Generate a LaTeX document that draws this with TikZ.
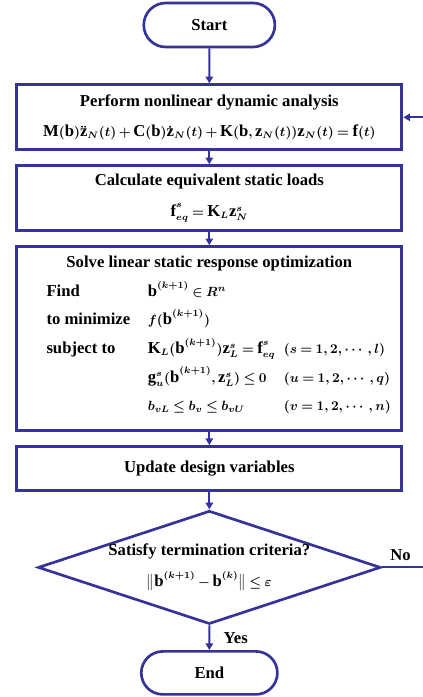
\documentclass[tikz,border=0pt]{standalone}
\usepackage{amsmath}
\usepackage{fontspec}
\setmainfont{Liberation Serif}
\DeclareMathSizes{12.5}{9.8}{7}{5}
\medmuskip=3mu plus 2mu minus 3mu
\thickmuskip=4mu plus 3mu
\newcommand{\vb}[1]{\textbf{#1}}
\usetikzlibrary{arrows.meta,positioning,shapes.geometric,shapes.misc}
\definecolor{navy}{HTML}{333399}

\begin{document}
\begin{tikzpicture}[
  font=\fontsize{12.5}{23}\selectfont\bfseries\boldmath,
  node distance=9.75pt,
  term/.style={rounded rectangle, draw=navy, line width=2pt, minimum width=105pt, minimum height=33pt},
  block/.style={draw=navy, line width=2.2pt, minimum width=288.75pt, align=center, inner sep=0pt},
  decide/.style={diamond, draw=navy, line width=2pt, aspect=3, minimum width=257pt, minimum height=85pt, inner xsep=0pt, inner ysep=-4pt, align=center},
  flow/.style={-{Triangle[length=5pt,width=5.5pt]}, line width=1.6pt, draw=navy},
  tag/.style={inner sep=0pt},
]
\useasboundingbox (0,0) rectangle (316.5pt,-522.75pt);

\node[term] (start) at (157pt,-18.75pt) {Start};
\node[block, minimum height=48.75pt, below=26.25pt of start] (nonlin) {Perform nonlinear dynamic analysis\\
  $\vb{M}(\vb{b})\ddot{\vb{z}}_N(t)+\vb{C}(\vb{b})\dot{\vb{z}}_N(t)+\vb{K}(\vb{b},\vb{z}_N(t))\vb{z}_N(t)=\vb{f}(t)$};
\node[block, minimum height=48.75pt, below=of nonlin] (eqload) {Calculate equivalent static loads\\
  $\vb{f}_{eq}^{s}=\vb{K}_L\vb{z}_N^{s}$};
\node[block, minimum height=138pt, below=of eqload] (solve) {Solve linear static response optimization\\[-1.5pt]
  \def\arraystretch{0.93}%
  \begin{tabular}[t]{@{\hspace{14pt}}p{76pt}@{}p{102pt}@{}l@{}}
  Find & \mbox{$\vb{b}^{(k+1)}\in R^n$} & \\
  to minimize & \mbox{$f(\vb{b}^{(k+1)})$} & \\
  subject to & \mbox{$\vb{K}_L(\vb{b}^{(k+1)})\vb{z}_L^s=\vb{f}_{eq}^s$} & $(s=1,2,\cdots,l)$\\
   & \mbox{$\vb{g}_u^s(\vb{b}^{(k+1)},\vb{z}_L^s)\le 0$} & $(u=1,2,\cdots,q)$\\
   & \mbox{$b_{vL}\le b_v\le b_{vU}$} & $(v=1,2,\cdots,n)$
  \end{tabular}\\[0.5pt]};
\node[block, minimum height=33pt, below=of solve] (update) {Update design variables};
\node[decide, below=13pt of update] (dec) {Satisfy termination criteria?\\
  $\bigl\|\vb{b}^{(k+1)}-\vb{b}^{(k)}\bigr\|\le\varepsilon$};
\node[term, minimum width=108.75pt, minimum height=32.25pt, below=18.5pt of dec] (finish) {End};

\coordinate[right=60pt of dec.east] (loopcorner);
\node[tag, above right=5pt and 6pt of dec.east] (nolabel) {No};

\draw[flow] (start) -- (nonlin);
\draw[flow] (nonlin) -- (eqload);
\draw[flow] (eqload) -- (solve);
\draw[flow] (solve) -- (update);
\draw[flow] (update) -- (dec);
\draw[flow] (dec) -- node[tag, right=10pt] (yeslabel) {Yes} (finish);
\draw[flow] (dec.east) -- (loopcorner) |- (nonlin.east);
\end{tikzpicture}
\end{document}
